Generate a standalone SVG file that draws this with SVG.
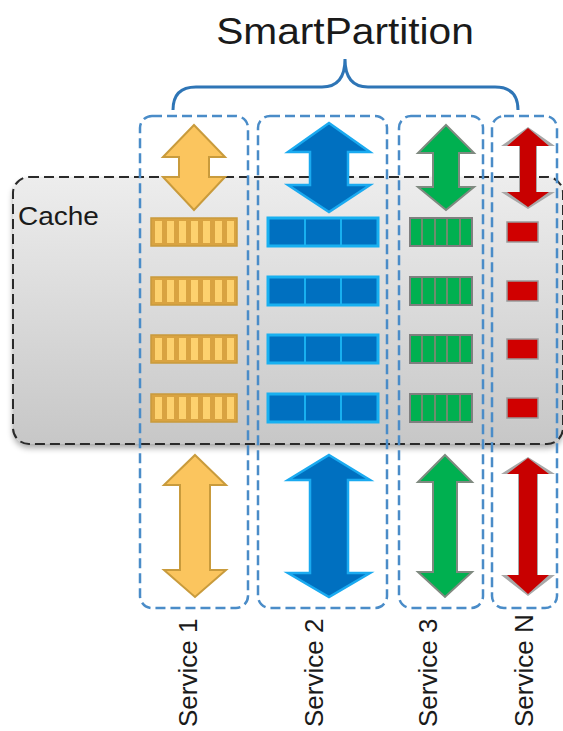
<svg xmlns="http://www.w3.org/2000/svg" width="563" height="731" viewBox="0 0 563 731">
<defs>
<linearGradient id="cacheGrad" x1="0" y1="0" x2="0" y2="1">
<stop offset="0" stop-color="#ededed"/>
<stop offset="1" stop-color="#c7c7c7"/>
</linearGradient>
<filter id="shadow" x="-5%" y="-5%" width="110%" height="115%">
<feGaussianBlur in="SourceAlpha" stdDeviation="3"/>
<feOffset dx="0" dy="4"/>
<feComponentTransfer><feFuncA type="linear" slope="0.35"/></feComponentTransfer>
<feMerge><feMergeNode/><feMergeNode in="SourceGraphic"/></feMerge>
</filter>
</defs>
<style>
.lbl{font-family:"Liberation Sans",Arial,sans-serif;fill:#1a1a1a}
.col{fill:none;stroke:#4a8cc8;stroke-width:2.5;stroke-dasharray:10 5}
.orA{fill:#fbc55e;stroke:#c99b3c;stroke-width:2}
.blA{fill:#0070c0;stroke:#1aaaf0;stroke-width:2.5}
.grA{fill:#00b050;stroke:#7f8a80;stroke-width:2}
.rdG{fill:#a8a8a8}
.rdA{fill:#c80000}
.orB{fill:#d9a341;stroke:#c99b3c;stroke-width:1.5}
.orS{fill:#fdd16e}
.blB{fill:#0070c0;stroke:#18b0f0;stroke-width:3}
.blS{stroke:#18b0f0;stroke-width:2}
.grB{fill:#00b050;stroke:#7f7f7f;stroke-width:2}
.grS{stroke:#6e8d6e;stroke-width:2}
.rdB{fill:#d00000;stroke:#9a9a9a;stroke-width:1.5}
</style>
<rect width="563" height="731" fill="#ffffff"/>

<g id="title">
<text class="lbl" x="0" y="0" font-size="37" text-anchor="middle" transform="translate(345,44) scale(1.1,1)">SmartPartition</text>
</g>

<g id="cache">
<rect x="13" y="177" width="550" height="267" rx="16" fill="url(#cacheGrad)" filter="url(#shadow)"/>
<rect x="13" y="177" width="550" height="267" rx="16" fill="none" stroke="#2a2a2a" stroke-width="2" stroke-dasharray="10 5"/>
<text class="lbl" x="0" y="0" font-size="25" transform="translate(18,225) scale(1.12,1)">Cache</text>
</g>

<g id="connectors">
<path d="M173,110 Q173,87 196,87 L322,87 Q345,87 345,59 Q345,87 368,87 L495,87 Q518,87 518,110" fill="none" stroke="#2e75b6" stroke-width="3"/>
</g>

<g id="service1">
<path class="orA" d="M194,125 L225,157 L209,157 L209,177 L225,177 L194,210 L163,177 L179,177 L179,157 L163,157 Z"/>
<g>
<rect class="orB" x="151" y="218" width="86" height="28"/>
<rect class="orB" x="151" y="277" width="86" height="28"/>
<rect class="orB" x="151" y="335" width="86" height="28"/>
<rect class="orB" x="151" y="394" width="86" height="28"/>
</g>
<g class="orS">
<rect x="155" y="221" width="7" height="22"/><rect x="167" y="221" width="7" height="22"/><rect x="179" y="221" width="7" height="22"/><rect x="191" y="221" width="7" height="22"/><rect x="203" y="221" width="7" height="22"/><rect x="215" y="221" width="7" height="22"/><rect x="227" y="221" width="7" height="22"/>
<rect x="155" y="280" width="7" height="22"/><rect x="167" y="280" width="7" height="22"/><rect x="179" y="280" width="7" height="22"/><rect x="191" y="280" width="7" height="22"/><rect x="203" y="280" width="7" height="22"/><rect x="215" y="280" width="7" height="22"/><rect x="227" y="280" width="7" height="22"/>
<rect x="155" y="338" width="7" height="22"/><rect x="167" y="338" width="7" height="22"/><rect x="179" y="338" width="7" height="22"/><rect x="191" y="338" width="7" height="22"/><rect x="203" y="338" width="7" height="22"/><rect x="215" y="338" width="7" height="22"/><rect x="227" y="338" width="7" height="22"/>
<rect x="155" y="397" width="7" height="22"/><rect x="167" y="397" width="7" height="22"/><rect x="179" y="397" width="7" height="22"/><rect x="191" y="397" width="7" height="22"/><rect x="203" y="397" width="7" height="22"/><rect x="215" y="397" width="7" height="22"/><rect x="227" y="397" width="7" height="22"/>
</g>
<path class="orA" d="M195,455 L226,485 L210,485 L210,570 L226,570 L195,597 L164,570 L180,570 L180,485 L164,485 Z"/>
<rect class="col" x="140" y="116" width="108" height="492" rx="12"/>
<text class="lbl" x="0" y="0" font-size="26" transform="translate(197,727) rotate(-90)">Service 1</text>
</g>

<g id="service2">
<path class="blA" d="M329,123 L370,152 L348,152 L348,185 L370,185 L329,212 L288,185 L310,185 L310,152 L288,152 Z"/>
<rect class="blB" x="268" y="218" width="110" height="28"/>
<rect class="blB" x="268" y="277" width="110" height="28"/>
<rect class="blB" x="268" y="335" width="110" height="28"/>
<rect class="blB" x="268" y="394" width="110" height="28"/>
<path class="blS" d="M305,218 V246 M341,218 V246 M305,277 V305 M341,277 V305 M305,335 V363 M341,335 V363 M305,394 V422 M341,394 V422"/>
<path class="blA" d="M329,455 L370,480 L348,480 L348,573 L370,573 L329,597 L288,573 L310,573 L310,480 L288,480 Z"/>
<rect class="col" x="258" y="116" width="129" height="492" rx="12"/>
<text class="lbl" x="0" y="0" font-size="26" transform="translate(323,727) rotate(-90)">Service 2</text>
</g>

<g id="service3">
<path class="grA" d="M446,125 L474,153 L459,153 L459,187 L474,187 L446,210 L418,187 L433,187 L433,153 L418,153 Z"/>
<rect class="grB" x="410" y="218" width="62" height="28"/>
<rect class="grB" x="410" y="277" width="62" height="28"/>
<rect class="grB" x="410" y="335" width="62" height="28"/>
<rect class="grB" x="410" y="394" width="62" height="28"/>
<path class="grS" d="M422,219 V245 M435,219 V245 M447,219 V245 M460,219 V245 M422,278 V304 M435,278 V304 M447,278 V304 M460,278 V304 M422,336 V362 M435,336 V362 M447,336 V362 M460,336 V362 M422,395 V421 M435,395 V421 M447,395 V421 M460,395 V421"/>
<path class="grA" d="M445,455 L472,482 L457,482 L457,572 L472,572 L445,597 L418,572 L433,572 L433,482 L418,482 Z"/>
<rect class="col" x="399" y="116" width="84" height="492" rx="12"/>
<text class="lbl" x="0" y="0" font-size="26" transform="translate(437,727) rotate(-90)">Service 3</text>
</g>

<g id="serviceN">
<path class="rdG" d="M528,127 L555,146 L537,146 L537,192 L555,192 L528,209 L501,192 L519,192 L519,146 L501,146 Z"/>
<path class="rdA" d="M528,128 L549,146 L536,146 L536,192 L549,192 L528,207 L507,192 L520,192 L520,146 L507,146 Z"/>
<rect class="rdB" x="507" y="222" width="31" height="20"/>
<rect class="rdB" x="507" y="281" width="31" height="20"/>
<rect class="rdB" x="507" y="339" width="31" height="20"/>
<rect class="rdB" x="507" y="398" width="31" height="20"/>
<path class="rdG" d="M528,457 L555,474 L538,474 L538,575 L555,575 L528,596 L501,575 L518,575 L518,474 L501,474 Z"/>
<path class="rdA" d="M528,458 L549,474 L537,474 L537,575 L549,575 L528,594 L507,575 L519,575 L519,474 L507,474 Z"/>
<rect class="col" x="492" y="116" width="65" height="492" rx="12"/>
<text class="lbl" x="0" y="0" font-size="26" transform="translate(533,727) rotate(-90)">Service N</text>
</g>
</svg>
